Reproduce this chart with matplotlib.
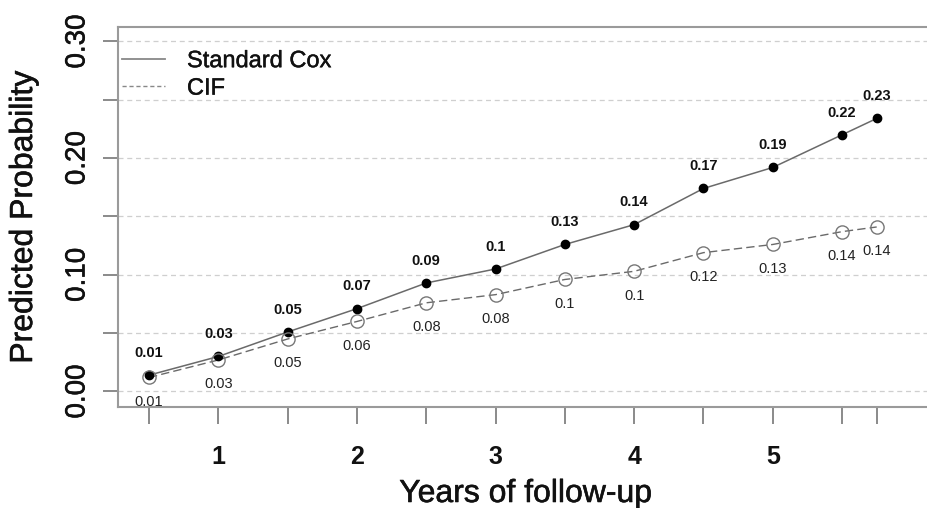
import matplotlib
matplotlib.use("Agg")
import matplotlib.pyplot as plt
import matplotlib.patheffects as pe
from matplotlib.lines import Line2D
import numpy as np

# ---- data ----
years = [0.5, 1, 1.5, 2, 2.5, 3, 3.5, 4, 4.5, 5, 5.5, 5.75]
cox_vals = [0.014, 0.030, 0.051, 0.071, 0.093, 0.105, 0.126, 0.143, 0.174, 0.192, 0.220, 0.234]
cif_vals = [0.012, 0.027, 0.045, 0.060, 0.076, 0.083, 0.096, 0.103, 0.119, 0.126, 0.137, 0.141]
cox_labels = ["0.01", "0.03", "0.05", "0.07", "0.09", "0.1", "0.13", "0.14", "0.17", "0.19", "0.22", "0.23"]
cif_labels = ["0.01", "0.03", "0.05", "0.06", "0.08", "0.08", "0.1", "0.1", "0.12", "0.13", "0.14", "0.14"]
yticks = [0.00, 0.05, 0.10, 0.15, 0.20, 0.25, 0.30]
ytick_labels = ["0.00", "", "0.10", "", "0.20", "", "0.30"]
series_names = ["Standard Cox", "CIF"]
xlabel = "Years of follow-up"
ylabel = "Predicted Probability"

plt.rcParams["font.family"] = ["Liberation Sans", "DejaVu Sans"]

W, H = 927, 508
fig = plt.figure(figsize=(W / 100, H / 100), dpi=100)
left_px, right_px, top_px, bot_px = 118, 927, 27, 407
ax = fig.add_axes([left_px / W, (H - bot_px) / H, (right_px - left_px) / W, (bot_px - top_px) / H])

ax.set_xlim(0.276, 6.113)
ax.set_ylim(-0.0133, 0.3124)

heavy = [pe.withStroke(linewidth=0.4, foreground="#111111")]

# grid
for yv in yticks:
    ax.axhline(yv, color="#cfcfcf", lw=0.9, ls=(0, (4, 3)), zorder=0)

grey = "#6a6a6a"
ax.plot(years, cox_vals, color=grey, lw=1.1, zorder=2)
ax.plot(years, cox_vals, ls="none", marker="o", ms=6.0, mfc="black", mec="black", zorder=3)
ax.plot(years, cif_vals, color=grey, lw=1.0, ls=(0, (6, 3)), zorder=2)
ax.plot(years, cif_vals, ls="none", marker="o", ms=9.5, mfc="none", mec="#777777", mew=1.0, zorder=3)

for x, v, t in zip(years, cox_vals, cox_labels):
    ax.annotate(t, (x, v), xytext=(0, 16), textcoords="offset points",
                ha="center", va="center", fontsize=10.5, fontweight="bold", color="#111111")
for x, v, t in zip(years, cif_vals, cif_labels):
    ax.annotate(t, (x, v), xytext=(0, -17.5), textcoords="offset points",
                ha="center", va="center", fontsize=10.5, color="#222222")

# spines
for s in ["left", "bottom", "top"]:
    ax.spines[s].set_color("#9a9a9a")
    ax.spines[s].set_linewidth(1.5)
ax.spines["right"].set_visible(False)

ax.set_xticks(years)
ax.set_xticklabels([str(int(v)) if float(v).is_integer() else "" for v in years],
                   fontsize=18, fontweight="bold", color="#111111")
ax.set_yticks(yticks)
ax.set_yticklabels(ytick_labels, fontsize=20, rotation=90, va="center", color="#111111")
for lab in ax.get_yticklabels():
    lab.set_path_effects(heavy)
ax.tick_params(axis="x", length=12.2, width=1.2, color="#777777", pad=15)
ax.tick_params(axis="y", length=10.8, width=1.2, color="#777777", pad=9)

fig.text(526 / W, (H - 502) / H, xlabel, ha="center", va="baseline", fontsize=23,
         color="#111111", path_effects=heavy)
fig.text(24 / W, (H - 217) / H, ylabel, ha="center", va="center", rotation=90, fontsize=23,
         color="#111111", path_effects=heavy)

handles = [Line2D([], [], color="#888888", lw=1.3),
           Line2D([], [], color="#888888", lw=1.0, ls=(0, (3, 2)))]
leg = ax.legend(handles, series_names, loc="upper left", bbox_to_anchor=(0.005, 0.939),
                frameon=False, fontsize=17, handlelength=1.82, handletextpad=0.93,
                borderpad=0, borderaxespad=0, labelspacing=0.23)
for t in leg.get_texts():
    t.set_color("#111111")
    t.set_path_effects([pe.withStroke(linewidth=0.3, foreground="#111111")])

fig.savefig("out.png", dpi=100)
